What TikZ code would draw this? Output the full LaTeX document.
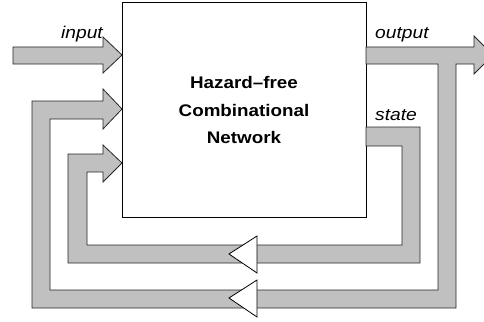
\documentclass[tikz,border=0pt]{standalone}
\usepackage{fontspec}
\newfontfamily\lsans{Liberation Sans}
\begin{document}
\begin{tikzpicture}[x=1pt,y=-1pt,
  band/.style={fill=bandgray,draw=black!85,line width=0.8pt,line join=miter},
  tri/.style={fill=white,draw=black,line width=0.8pt},
  boxstyle/.style={fill=white,draw=black,line width=0.9pt},
  title/.style={font=\lsans\bfseries\fontsize{16.8}{20}\selectfont,anchor=base,inner sep=0pt},
  lab/.style={font=\lsans\itshape\fontsize{17}{20}\selectfont,inner sep=0pt}]
\definecolor{bandgray}{HTML}{C0C0C0}
\useasboundingbox (0,0) rectangle (484,321);
\clip (0,0) rectangle (484,321);
% network box
\draw[boxstyle] (122,2) rectangle (366,217);
\coordinate (boxNW) at (122,2);
\coordinate (boxSE) at (366,217);
% input arrow
\draw[band] (13,47) -- (103,47) -- (103,37) -- (122,55) -- (103,73) -- (103,64) -- (13,64) -- cycle;
% output arrow with outer feedback loop
\draw[band] (366,47) -- (474,47) -- (474,36) -- (493,55) -- (474,74) -- (474,64)
  -- (456,64) -- (456,308) -- (32,308) -- (32,101) -- (103,101) -- (103,89)
  -- (122,109) -- (103,129) -- (103,119) -- (50,119) -- (50,290) -- (438,290)
  -- (438,64) -- (366,64) -- cycle;
% state feedback loop
\draw[band] (366,127) -- (420,127) -- (420,263) -- (68,263) -- (68,154) -- (103,154)
  -- (103,145) -- (122,163) -- (103,182) -- (103,172) -- (87,172) -- (87,245)
  -- (402,245) -- (402,146) -- (366,146) -- cycle;
% direction triangles
\draw[tri] (257,236) -- (257,273) -- (229,254) -- cycle;
\draw[tri] (257,280) -- (257,317) -- (229,298) -- cycle;
% texts
\node[title] (t1) at (244,88) {\scalebox{1.12}[1]{Hazard–free}};
\node[title] (t2) at (244,116) {\scalebox{1.12}[1]{Combinational}};
\node[title] (t3) at (244,143) {\scalebox{1.12}[1]{Network}};
\node[lab,anchor=base east] (in) at (103,39) {\scalebox{1.13}[1]{input}};
\node[lab,anchor=base west] (out) at (375,38) {\scalebox{1.13}[1]{output}};
\node[lab,anchor=base west] (st) at (375,120) {\scalebox{1.13}[1]{state}};
\end{tikzpicture}
\end{document}
